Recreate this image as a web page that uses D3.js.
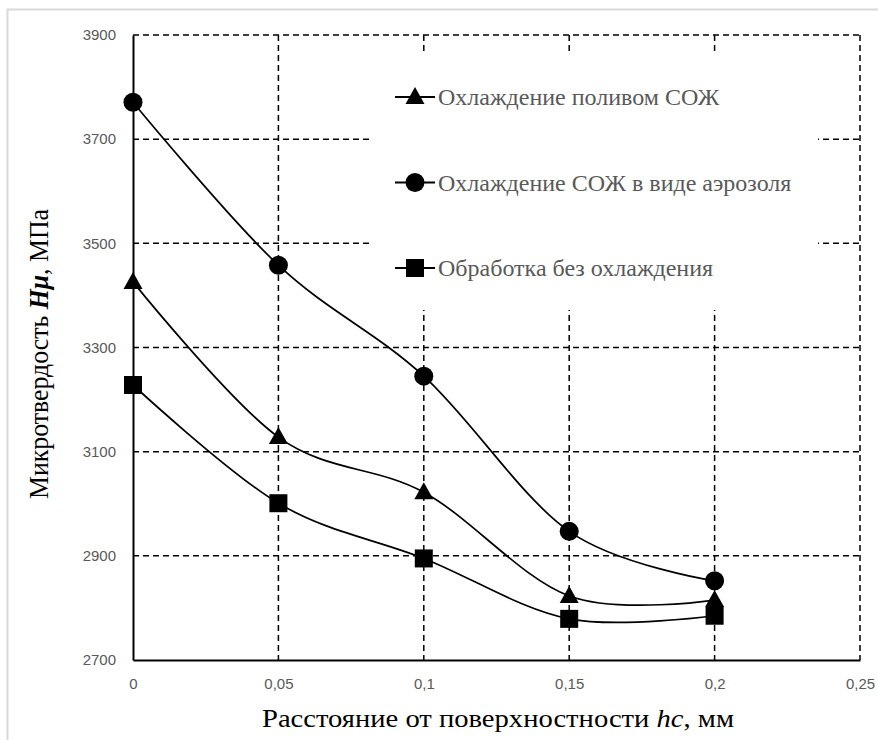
<!DOCTYPE html>
<html>
<head>
<meta charset="utf-8">
<script src="https://cdn.jsdelivr.net/npm/d3@7"></script>
<style>
  body { margin: 0; background: #fff; }
  svg { display: block; }
</style>
</head>
<body>
<svg id="chart" width="878" height="740"></svg>
<script>
const xTicks = [0, 0.05, 0.1, 0.15, 0.2, 0.25];
const yTicks = [2700, 2900, 3100, 3300, 3500, 3700, 3900];
const depth = [0, 0.05, 0.1, 0.15, 0.2];
const floodValues = [3426, 3128, 3022, 2823, 2815];
const aerosolValues = [3771, 3458, 3245, 2947, 2852];
const dryValues = [3228, 3001, 2895, 2779, 2785];
const seriesNames = ['Охлаждение поливом СОЖ', 'Охлаждение СОЖ в виде аэрозоля', 'Обработка без охлаждения'];

const series = [
  { name: seriesNames[0], values: floodValues, marker: 'triangle' },
  { name: seriesNames[1], values: aerosolValues, marker: 'circle' },
  { name: seriesNames[2], values: dryValues, marker: 'square' }
];

const svg = d3.select('#chart'),
  margin = { top: 35, right: 18, bottom: 80, left: 133 },
  width = +svg.attr('width') - margin.left - margin.right,
  height = +svg.attr('height') - margin.top - margin.bottom;

// light frame, only top and left like the source image
svg.append('path')
  .attr('d', 'M7.5,740 V9.5 H878')
  .attr('fill', 'none')
  .attr('stroke', '#d9d9d9')
  .attr('stroke-width', 2);

const g = svg.append('g').attr('transform', 'translate(' + margin.left + ',' + margin.top + ')');

const x = d3.scaleLinear().domain([0, 0.25]).range([0, width]);
const y = d3.scaleLinear().domain([2700, 3900]).range([height, 0]);

const fmt = d => String(d).replace('.', ',');

// grid
g.append('g')
  .selectAll('line')
  .data(yTicks.slice(1))
  .join('line')
  .attr('x1', 0).attr('x2', width)
  .attr('y1', d => y(d)).attr('y2', d => y(d))
  .attr('stroke', '#000').attr('stroke-width', 1.5)
  .attr('stroke-dasharray', '6,4');

g.append('g')
  .selectAll('line')
  .data(xTicks.slice(1))
  .join('line')
  .attr('x1', d => x(d)).attr('x2', d => x(d))
  .attr('y1', 0).attr('y2', height)
  .attr('stroke', '#000').attr('stroke-width', 1.5)
  .attr('stroke-dasharray', '6,4');

// axes
const xAxis = g.append('g')
  .attr('transform', 'translate(0,' + height + ')')
  .call(d3.axisBottom(x).tickValues(xTicks).tickFormat(fmt).tickSize(0).tickPadding(18));
xAxis.select('.domain').attr('stroke', '#000').attr('stroke-width', 2);

const yAxis = g.append('g')
  .call(d3.axisLeft(y).tickValues(yTicks).tickFormat(d => d).tickSize(0).tickPadding(17));
yAxis.select('.domain').attr('stroke', '#000').attr('stroke-width', 2);

g.selectAll('.tick text')
  .attr('font-family', 'Liberation Sans, Arial, sans-serif')
  .attr('font-size', 15)
  .attr('fill', '#595959');

// legend box hides the grid behind it
g.append('rect')
  .attr('x', 240).attr('y', 18)
  .attr('width', 445).attr('height', 257)
  .attr('fill', '#fff');

const line = d3.line()
  .x((d, i) => x(depth[i]))
  .y(d => y(d))
  .curve(d3.curveCardinal.tension(0));

function drawMarker(sel, type) {
  if (type === 'circle') {
    sel.append('circle').attr('r', 9.5).attr('fill', '#000');
  } else if (type === 'square') {
    sel.append('rect').attr('x', -9).attr('y', -9).attr('width', 18).attr('height', 18).attr('fill', '#000');
  } else {
    sel.append('path').attr('d', 'M0,-10 L9.5,7 L-9.5,7 Z').attr('fill', '#000');
  }
}

series.forEach(s => {
  g.append('path')
    .datum(s.values)
    .attr('fill', 'none')
    .attr('stroke', '#000')
    .attr('stroke-width', 1.7)
    .attr('d', line);

  s.values.forEach((v, i) => {
    const m = g.append('g').attr('transform', 'translate(' + x(depth[i]) + ',' + y(v) + ')');
    drawMarker(m, s.marker);
  });
});

// legend
const legend = g.append('g').attr('transform', 'translate(282,62)');
series.forEach((s, i) => {
  const row = legend.append('g').attr('transform', 'translate(0,' + (i * 85.5) + ')');
  row.append('line')
    .attr('x1', -20).attr('x2', 20)
    .attr('stroke', '#000').attr('stroke-width', 1.8);
  drawMarker(row, s.marker);
  row.append('text')
    .attr('x', 23).attr('dy', '0.35em')
    .attr('font-family', 'Liberation Serif, Times New Roman, serif')
    .attr('font-size', 24)
    .attr('fill', '#595959')
    .text(s.name);
});

// axis titles
svg.append('text')
  .attr('x', 498).attr('y', 727)
  .attr('text-anchor', 'middle')
  .attr('font-family', 'Liberation Serif, Times New Roman, serif')
  .attr('font-size', 25)
  .attr('fill', '#000')
  .attr('textLength', 472)
  .attr('lengthAdjust', 'spacingAndGlyphs')
  .call(t => {
    t.append('tspan').text('Расстояние от поверхностности  ');
    t.append('tspan').attr('font-style', 'italic').text('hc');
    t.append('tspan').text(', мм');
  });

svg.append('text')
  .attr('transform', 'translate(48,354) rotate(-90)')
  .attr('text-anchor', 'middle')
  .attr('font-family', 'Liberation Serif, Times New Roman, serif')
  .attr('font-size', 28)
  .attr('fill', '#000')
  .attr('textLength', 290)
  .attr('lengthAdjust', 'spacingAndGlyphs')
  .call(t => {
    t.append('tspan').text('Микротвердость ');
    t.append('tspan').attr('font-style', 'italic').attr('font-weight', 'bold').text('Hμ');
    t.append('tspan').text(', МПа');
  });
</script>
</body>
</html>
